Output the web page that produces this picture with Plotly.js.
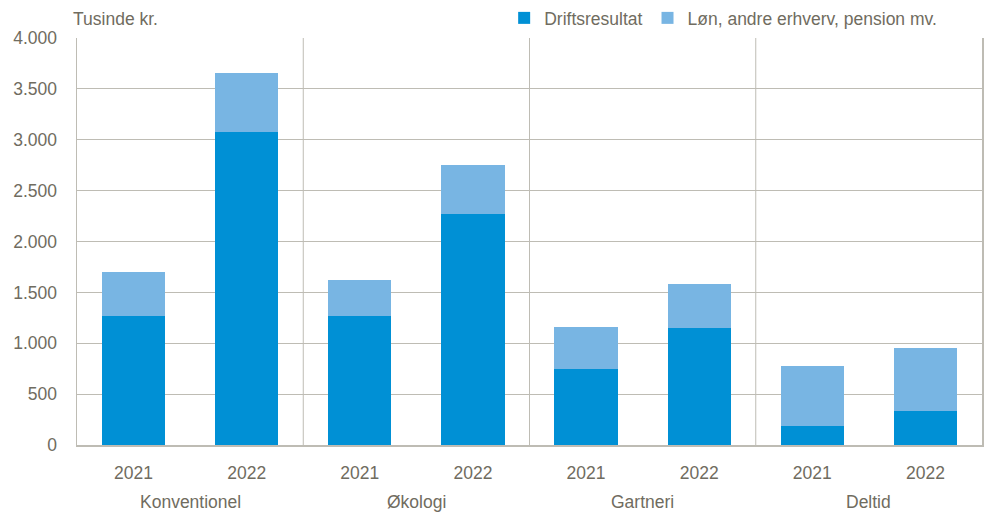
<!DOCTYPE html>
<html>
<head>
<meta charset="utf-8">
<script src="https://cdn.plot.ly/plotly-3.0.1.min.js"></script>
<style>html,body{margin:0;padding:0;background:#fff;}#chart{width:989px;height:515px;}</style>
</head>
<body>
<div id="chart"></div>
<script>
const groups = ["Konventionel", "Økologi", "Gartneri", "Deltid"];
const years = ["2021", "2022"];
const driftsresultat = [1268, 3079, 1268, 2270, 744, 1153, 190, 334];
const loenMv = [429, 577, 351, 482, 419, 432, 583, 616];
const seriesNames = ["Driftsresultat", "Løn, andre erhverv, pension mv."];
const yTitle = "Tusinde kr.";

const textColor = "rgb(112,108,96)";
const gridColor = "rgb(190,188,180)";
const font = "Liberation Sans, Arial, sans-serif";
const fs = 17.5;

const xIdx = [];
const xLabels = [];
groups.forEach((g, gi) => years.forEach((y, yi) => { xIdx.push(gi * years.length + yi); xLabels.push(y); }));

const traces = [
  {type: "bar", x: xIdx, y: driftsresultat, name: seriesNames[0], marker: {color: "rgb(0,144,213)", line: {width: 0}}},
  {type: "bar", x: xIdx, y: loenMv, name: seriesNames[1], marker: {color: "rgb(120,181,227)", line: {width: 0}}}
];

const shapes = [];
for (let gi = 1; gi < groups.length; gi++) {
  const xb = gi * years.length - 0.5;
  shapes.push({type: "line", xref: "x", yref: "paper", x0: xb, x1: xb, y0: 0, y1: 1, line: {color: gridColor, width: 1}, layer: "below"});
}

const annotations = groups.map((g, gi) => ({
  text: g, xref: "x", yref: "paper", x: gi * years.length + (years.length - 1) / 2, y: 0,
  yshift: -57, showarrow: false, font: {family: font, size: fs, color: textColor}, xanchor: "center", yanchor: "middle"
}));
annotations.push({text: yTitle, xref: "paper", yref: "paper", x: 0, y: 1, xshift: -6, yshift: 19, xanchor: "left", yanchor: "middle", showarrow: false, font: {family: font, size: fs, color: textColor}});

const layout = {
  width: 989, height: 515,
  margin: {l: 77, r: 7, t: 38, b: 70},
  paper_bgcolor: "#fff", plot_bgcolor: "#fff",
  barmode: "stack", bargap: 0.44,
  separators: ",.",
  font: {family: font, size: fs, color: textColor},
  showlegend: true,
  legend: {orientation: "h", x: 0.472, xanchor: "left", y: 1.0, yanchor: "top", yref: "container",
           font: {family: font, size: fs, color: textColor}, traceorder: "normal",
           itemwidth: 30, bgcolor: "rgba(0,0,0,0)"},
  xaxis: {range: [-0.5, xIdx.length - 0.5], tickvals: xIdx, ticktext: xLabels, showgrid: false, zeroline: false,
          showline: true, linecolor: gridColor, linewidth: 1.5, ticks: "", ticklabelstandoff: 11,
          tickfont: {family: font, size: fs, color: textColor}, fixedrange: true},
  yaxis: {range: [0, 4000], dtick: 500, tickformat: ",d", showgrid: true, gridcolor: gridColor, gridwidth: 1,
          zeroline: false, showline: true, mirror: true, linecolor: gridColor, linewidth: 1.5, ticks: "",
          ticklabelstandoff: 15, tickfont: {family: font, size: fs, color: textColor}, fixedrange: true},
  shapes: shapes,
  annotations: annotations
};

Plotly.newPlot("chart", traces, layout, {displayModeBar: false, staticPlot: true});
</script>
</body>
</html>
